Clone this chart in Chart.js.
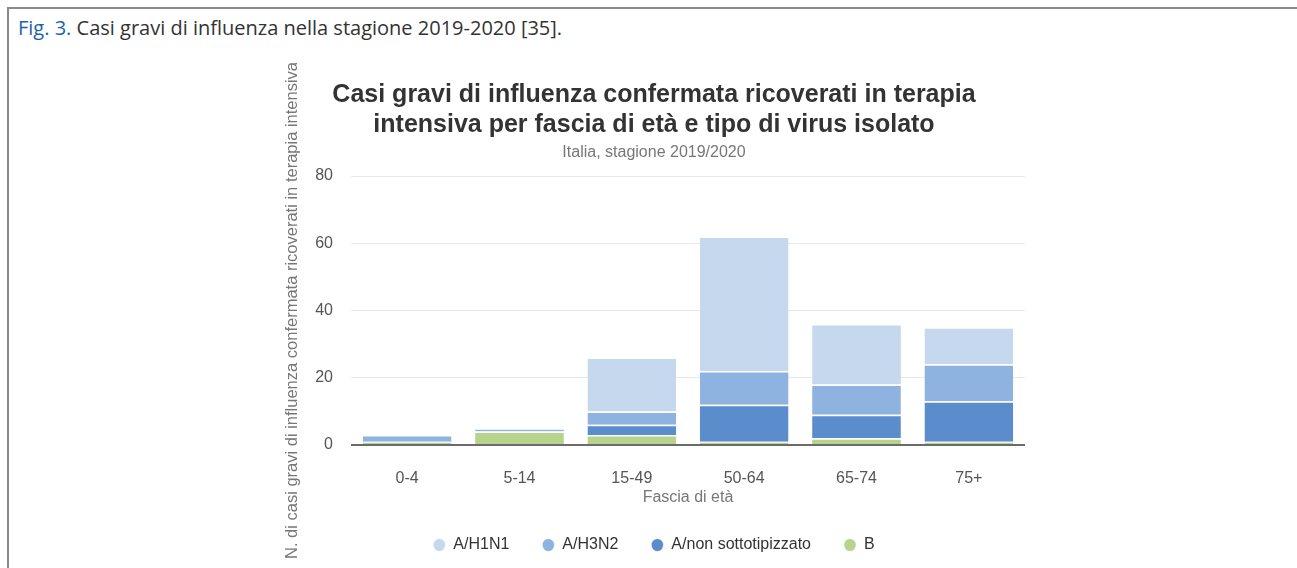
<!DOCTYPE html>
<html>
<head>
<meta charset="utf-8">
<script src="https://cdn.jsdelivr.net/npm/chart.js@4/dist/chart.umd.min.js"></script>
<style>
  html, body { margin: 0; padding: 0; background: #fff; overflow: hidden; }
  body { width: 1297px; height: 568px; position: relative; }
  #hline { position: absolute; left: 7px; top: 7px; width: 1290px; height: 2px; background: #8a8a8a; }
  #vline { position: absolute; left: 7px; top: 7px; width: 2px; height: 561px; background: #8a8a8a; }
  #caption { position: absolute; left: 18px; top: 18px; line-height: 20px; font-family: 'Open Sans', sans-serif;
             font-size: 20px; color: #333; white-space: nowrap; }
  #caption b { font-weight: 400; color: #1e62a8; }
  #wrap { position: absolute; left: 283px; top: 63px; width: 745px; height: 505px; }
</style>
</head>
<body>
<div id="hline"></div>
<div id="vline"></div>
<div id="caption"><b>Fig. 3.</b> Casi gravi di influenza nella stagione 2019-2020 [35].</div>
<div id="wrap"><canvas id="c" width="745" height="505"></canvas></div>
<script>
const categories = ["0-4", "5-14", "15-49", "50-64", "65-74", "75+"];
const seriesNames = ["A/H1N1", "A/H3N2", "A/non sottotipizzato", "B"];
const h1n1 = [0, 0, 16, 40, 18, 11];
const h3n2 = [2, 1, 4, 10, 9, 11];
const nonSottotipizzato = [0, 0, 3, 11, 7, 12];
const virusB = [1, 4, 3, 1, 2, 1];
const yTicks = [0, 20, 40, 60, 80];
const titleLines = ["Casi gravi di influenza confermata ricoverati in terapia", "intensiva per fascia di età e tipo di virus isolato"];
const subtitleText = "Italia, stagione 2019/2020";
const xTitle = "Fascia di età";
const yTitle = "N. di casi gravi di influenza confermata ricoverati in terapia intensiva";

const colors = ["#c6d8ee", "#8fb3e0", "#5b8ccb", "#b6d48c"];
const FONT = "'Liberation Sans', Arial, sans-serif";

const seriesData = [h1n1, h3n2, nonSottotipizzato, virusB];
// stacking order bottom-to-top: B, A/non, H3N2, H1N1
const order = [3, 2, 1, 0];
const datasets = order.map((i, k) => ({
  label: seriesNames[i],
  data: seriesData[i],
  backgroundColor: colors[i],
  borderColor: "#ffffff",
  borderWidth: { top: 1.5, left: 0, right: 0, bottom: 0 },
  borderSkipped: false,
  borderRadius: i === 0 ? { topLeft: 2, topRight: 2 } : 0,
  categoryPercentage: 0.79,
  barPercentage: 1.0,
  order: k
}));

new Chart(document.getElementById("c"), {
  type: "bar",
  data: { labels: categories, datasets: datasets },
  options: {
    responsive: false,
    animation: false,
    layout: { padding: { top: 0, left: 0, right: 3, bottom: 5 } },
    plugins: {
      title: {
        display: true, text: titleLines, color: "#333",
        font: { family: FONT, size: 25, weight: "bold", lineHeight: 1.2 },
        padding: { top: 17, bottom: 3.4 }
      },
      subtitle: {
        display: true, text: subtitleText, color: "#777",
        font: { family: FONT, size: 16, lineHeight: 1.2 },
        padding: { top: 0, bottom: 13.4 }
      },
      legend: {
        position: "bottom",
        reverse: true,
        labels: {
          usePointStyle: true, pointStyle: "circle", boxWidth: 9, boxHeight: 9, pointStyleWidth: 12,
          color: "#333", padding: 33,
          font: { family: FONT, size: 16 }
        }
      },
      tooltip: { enabled: false }
    },
    scales: {
      x: {
        stacked: true,
        afterFit: (s) => { s.height = 59; },
        grid: { display: false, drawTicks: false },
        border: { display: false },
        ticks: { color: "#555", padding: 24, font: { family: FONT, size: 16 } },
        title: { display: true, text: xTitle, color: "#777", font: { family: FONT, size: 16 }, padding: { top: 0, bottom: -3 } }
      },
      y: {
        stacked: true,
        min: 0, max: 80,
        afterBuildTicks: (s) => { s.ticks = yTicks.map(v => ({ value: v })); },
        afterFit: (s) => { s.width = 68; },
        grid: {
          drawTicks: false,
          color: (ctx) => ctx.tick && ctx.tick.value === 0 ? "#6b6b6b" : "#e8e8e8",
          lineWidth: (ctx) => ctx.tick && ctx.tick.value === 0 ? 2 : 1
        },
        border: { display: false },
        ticks: { color: "#555", padding: 18, font: { family: FONT, size: 16 } },
        title: { display: true, text: yTitle, color: "#777", font: { family: FONT, size: 16.5 }, padding: { top: 0, bottom: 0 } }
      }
    }
  }
});
</script>
</body>
</html>
